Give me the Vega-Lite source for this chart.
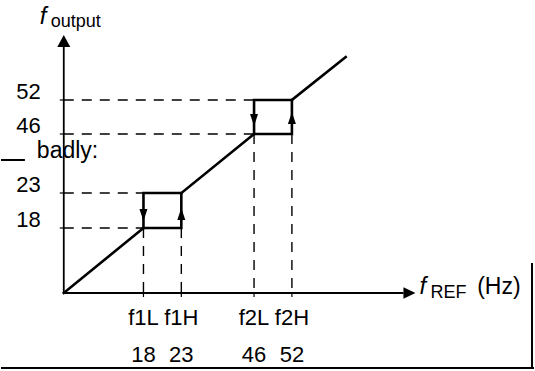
{
  "$schema": "https://vega.github.io/schema/vega-lite/v6.json",
  "width": 535,
  "height": 371,
  "padding": 0,
  "autosize": {"type": "fit", "contains": "padding"},
  "background": "white",
  "config": {"view": {"stroke": null}, "text": {"font": "Liberation Sans", "color": "black"}},
  "datasets": {
    "dashed": [
      {"x": 0, "y": 193, "x2": 191, "y2": 193},
      {"x": 0, "y": 159, "x2": 191, "y2": 159},
      {"x": 0, "y": 100, "x2": 80, "y2": 100},
      {"x": 0, "y": 65, "x2": 80, "y2": 65},
      {"x": 80, "y": 65, "x2": 80, "y2": 0},
      {"x": 118, "y": 65, "x2": 118, "y2": 0},
      {"x": 191, "y": 159, "x2": 191, "y2": 0},
      {"x": 229, "y": 159, "x2": 229, "y2": 0}
    ],
    "ticks": [
      {"x": -4, "y": 193, "x2": 0, "y2": 193},
      {"x": -4, "y": 159, "x2": 0, "y2": 159},
      {"x": -4, "y": 100, "x2": 0, "y2": 100},
      {"x": -4, "y": 65, "x2": 0, "y2": 65},
      {"x": 80, "y": 0, "x2": 80, "y2": -4},
      {"x": 118, "y": 0, "x2": 118, "y2": -4},
      {"x": 191, "y": 0, "x2": 191, "y2": -4},
      {"x": 229, "y": 0, "x2": 229, "y2": -4}
    ],
    "axes": [
      {"x": 0, "y": 0, "x2": 0, "y2": 247},
      {"x": 0, "y": 0, "x2": 341, "y2": 0}
    ],
    "frame": [
      {"x": -63, "y": -75, "x2": 472, "y2": -75},
      {"x": 470, "y": 30, "x2": 470, "y2": -75},
      {"x": -63, "y": 133, "x2": -39, "y2": 133}
    ],
    "path": [
      {"g": "a", "o": 1, "x": 0, "y": 0},
      {"g": "a", "o": 2, "x": 80, "y": 65},
      {"g": "a", "o": 3, "x": 118, "y": 65},
      {"g": "a", "o": 4, "x": 118, "y": 100},
      {"g": "a", "o": 5, "x": 191, "y": 159},
      {"g": "a", "o": 6, "x": 229, "y": 159},
      {"g": "a", "o": 7, "x": 229, "y": 193},
      {"g": "a", "o": 8, "x": 283, "y": 236},
      {"g": "b", "o": 1, "x": 118, "y": 100},
      {"g": "b", "o": 2, "x": 80, "y": 100},
      {"g": "b", "o": 3, "x": 80, "y": 65},
      {"g": "c", "o": 1, "x": 229, "y": 193},
      {"g": "c", "o": 2, "x": 191, "y": 193},
      {"g": "c", "o": 3, "x": 191, "y": 159}
    ],
    "arrows": [
      {"x": 80, "y": 78, "dir": "down"},
      {"x": 118, "y": 79, "dir": "up"},
      {"x": 191, "y": 173, "dir": "down"},
      {"x": 229, "y": 175, "dir": "up"},
      {"x": 0, "y": 252, "dir": "axisup"},
      {"x": 347, "y": 0, "dir": "axisright"}
    ],
    "ylabels": [
      {"x": -23, "y": 194, "t": "52"},
      {"x": -23, "y": 160, "t": "46"},
      {"x": -23, "y": 101, "t": "23"},
      {"x": -23, "y": 66, "t": "18"}
    ],
    "xlabels": [
      {"x": 80, "y": -32, "t": "f1L"},
      {"x": 118, "y": -32, "t": "f1H"},
      {"x": 191, "y": -32, "t": "f2L"},
      {"x": 229, "y": -32, "t": "f2H"},
      {"x": 80, "y": -69, "t": "18"},
      {"x": 118, "y": -69, "t": "23"},
      {"x": 191, "y": -69, "t": "46"},
      {"x": 229, "y": -69, "t": "52"}
    ],
    "italic": [
      {"x": -24, "y": 269, "t": "f"},
      {"x": 357, "y": -1, "t": "f"}
    ],
    "sub": [
      {"x": -13, "y": 266, "t": "output"},
      {"x": 368, "y": -5, "t": "REF"}
    ],
    "plain": [
      {"x": 415, "y": -1, "t": "(Hz)"},
      {"x": -27, "y": 135, "t": "badly:"}
    ]
  },
  "encoding": {
    "x": {"field": "x", "type": "quantitative", "scale": {"domain": [-63, 472], "nice": false, "zero": false}, "axis": null},
    "y": {"field": "y", "type": "quantitative", "scale": {"domain": [-78, 293], "nice": false, "zero": false}, "axis": null}
  },
  "layer": [
    {
      "data": {"name": "dashed"},
      "mark": {"type": "rule", "color": "black", "strokeWidth": 1.4, "strokeDash": [10, 8]},
      "encoding": {"x2": {"field": "x2"}, "y2": {"field": "y2"}}
    },
    {
      "data": {"name": "ticks"},
      "mark": {"type": "rule", "color": "black", "strokeWidth": 1.2},
      "encoding": {"x2": {"field": "x2"}, "y2": {"field": "y2"}}
    },
    {
      "data": {"name": "axes"},
      "mark": {"type": "rule", "color": "black", "strokeWidth": 1.8},
      "encoding": {"x2": {"field": "x2"}, "y2": {"field": "y2"}}
    },
    {
      "data": {"name": "frame"},
      "mark": {"type": "rule", "color": "black", "strokeWidth": 2},
      "encoding": {"x2": {"field": "x2"}, "y2": {"field": "y2"}}
    },
    {
      "data": {"name": "path"},
      "mark": {"type": "line", "color": "black", "strokeWidth": 2.6, "strokeJoin": "miter", "strokeCap": "square"},
      "encoding": {"detail": {"field": "g"}, "order": {"field": "o", "type": "quantitative"}}
    },
    {
      "data": {"name": "arrows"},
      "mark": {"type": "point", "filled": true, "color": "black", "opacity": 1, "strokeWidth": 0, "size": 169},
      "encoding": {
        "shape": {
          "field": "dir",
          "type": "nominal",
          "legend": null,
          "scale": {
            "domain": ["up", "down", "axisup", "axisright"],
            "range": [
              "M-0.615,0.923L0.615,0.923L0,-0.923Z",
              "M-0.615,-0.923L0.615,-0.923L0,0.923Z",
              "M-1,0.923L1,0.923L0,-0.923Z",
              "M-0.923,-0.9L0.923,0L-0.923,0.9Z"
            ]
          }
        }
      }
    },
    {
      "data": {"name": "ylabels"},
      "mark": {"type": "text", "fontSize": 22, "align": "right", "baseline": "alphabetic"},
      "encoding": {"text": {"field": "t"}}
    },
    {
      "data": {"name": "xlabels"},
      "mark": {"type": "text", "fontSize": 22, "align": "center", "baseline": "alphabetic"},
      "encoding": {"text": {"field": "t"}}
    },
    {
      "data": {"name": "italic"},
      "mark": {"type": "text", "fontSize": 24, "fontStyle": "italic", "align": "left", "baseline": "alphabetic"},
      "encoding": {"text": {"field": "t"}}
    },
    {
      "data": {"name": "sub"},
      "mark": {"type": "text", "fontSize": 18, "align": "left", "baseline": "alphabetic"},
      "encoding": {"text": {"field": "t"}}
    },
    {
      "data": {"name": "plain"},
      "mark": {"type": "text", "fontSize": 23, "align": "left", "baseline": "alphabetic"},
      "encoding": {"text": {"field": "t"}}
    }
  ]
}
